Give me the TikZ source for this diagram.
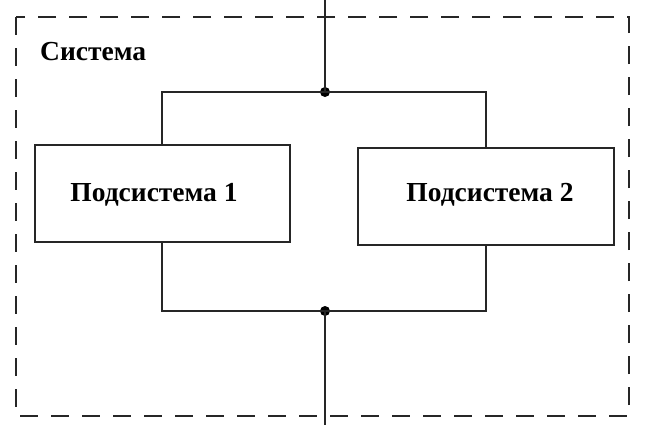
\documentclass[tikz,border=0pt]{standalone}
\usepackage{fontspec}
\setmainfont{Liberation Serif}
\begin{document}
\begin{tikzpicture}[x=1pt,y=-1pt,
  wire/.style={line width=1.5pt,draw=black!85},
  subbox/.style={draw=black!85,line width=1.5pt,rectangle,inner sep=0pt},
  lbl/.style={font=\bfseries\fontsize{27.5}{30}\selectfont,inner sep=0pt},
  junction/.style={circle,fill=black,inner sep=0pt,minimum size=10pt}]
\useasboundingbox (0,0) rectangle (647,437);
\fill[white] (0,0) rectangle (647,437);
% system frame
\draw[line width=1.5pt,draw=black!85,dash pattern=on 18pt off 13pt] (16,17) rectangle (629,416);
\node[lbl,anchor=west] (sys) at (40,52) {Система};
% boxes
\node[subbox,minimum width=255pt,minimum height=97pt] (b1) at (162.5,193.5) {};
\node[lbl] (t1) at (154,195) {Подсистема 1};
\node[subbox,minimum width=256pt,minimum height=97pt] (b2) at (486,196.5) {};
\node[lbl] (t2) at (490,195) {Подсистема 2};
% junctions
\coordinate (in) at (325,0);
\node[junction] (jt) at (325,92) {};
\node[junction] (jb) at (325,311) {};
\coordinate (out) at (325,425);
\coordinate (tl) at (162,92);
\coordinate (tr) at (486,92);
\coordinate (bl) at (162,311);
\coordinate (br) at (486,311);
\draw[wire] (in) -- (jt.center);
\draw[wire] (b1.north -| tl) -- (tl) -- (tr) -- (b2.north -| tr);
\draw[wire] (b1.south -| bl) -- (bl) -- (br) -- (b2.south -| br);
\draw[wire] (jb.center) -- (out);
\end{tikzpicture}
\end{document}
